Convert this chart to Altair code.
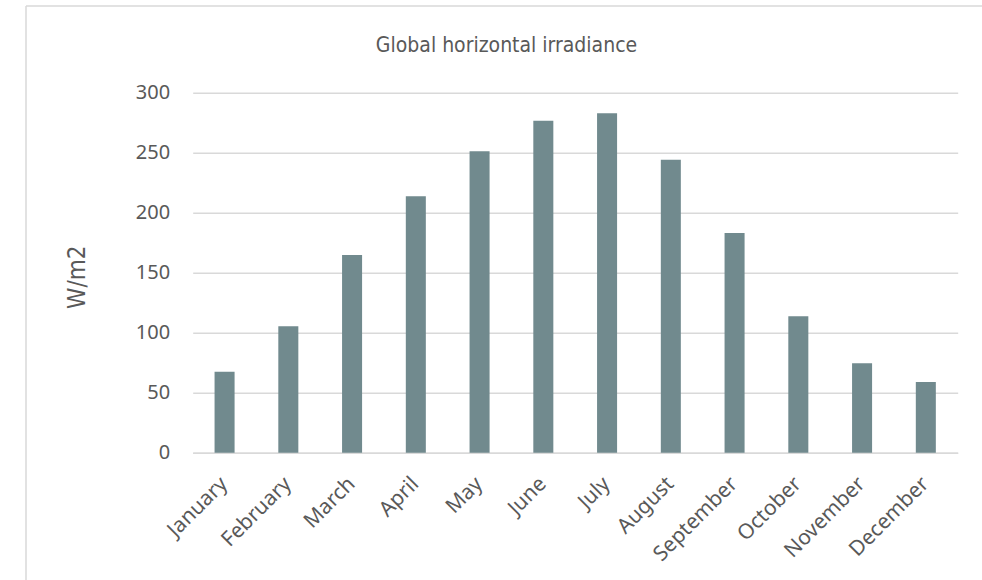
import altair as alt
import pandas as pd

months = ["January", "February", "March", "April", "May", "June",
          "July", "August", "September", "October", "November", "December"]
irradiance = [67.5, 105.3, 164.8, 213.7, 251.2, 276.7,
              282.8, 244.2, 183.1, 113.7, 74.5, 58.9]
y_ticks = [0, 50, 100, 150, 200, 250, 300]
chart_title = "Global horizontal irradiance"

df = pd.DataFrame({"month": months, "value": irradiance})
one = pd.DataFrame({"label": [chart_title]})

GRID = "#d9d9d9"
TEXT = "#595959"
NARROW = "Liberation Sans Narrow, DejaVu Sans Condensed, Roboto Condensed, sans-serif"

bars = alt.Chart(df).mark_bar(color="#718A8E").encode(
    x=alt.X("month:N", sort=months,
            scale=alt.Scale(paddingInner=0.686, paddingOuter=0.343),
            axis=alt.Axis(title=None, labelAngle=-45, labelFont="Noto Sans",
                          labelFontSize=21, labelColor=TEXT, ticks=False,
                          domainColor=GRID, domainWidth=1.5, labelPadding=20,
                          labelOffset=-8)),
    y=alt.Y("value:Q", scale=alt.Scale(domain=[0, 300], nice=False),
            axis=alt.Axis(values=y_ticks, title="W/m2", grid=True,
                          gridColor=GRID, gridWidth=1.5, domain=False,
                          ticks=False, labelPadding=23, labelFont="Noto Sans",
                          labelFontSize=20, labelColor=TEXT,
                          titleFont=NARROW, titleFontSize=24,
                          titleFontWeight="normal", titleColor=TEXT,
                          titleAngle=270, titleBaseline="alphabetic",
                          titleAlign="center", titleX=-108, titleY=184)),
)

top_border = alt.Chart(one).mark_rule(color=GRID, strokeWidth=1.5).encode(
    x=alt.value(-166.7), x2=alt.value(900), y=alt.value(-86.7))
left_border = alt.Chart(one).mark_rule(color=GRID, strokeWidth=1.5).encode(
    x=alt.value(-166.7), y=alt.value(-86.7), y2=alt.value(600))

title_text = alt.Chart(one).mark_text(
    font=NARROW, fontSize=21, color=TEXT, align="center",
    baseline="alphabetic").encode(
    text="label:N", x=alt.value(313.8), y=alt.value(-40.7))

chart = alt.layer(bars, top_border, left_border, title_text).properties(
    width=765, height=360,
    autosize=alt.AutoSizeParams(type="none"),
    padding={"left": 192.7, "top": 92.7, "right": 24.3, "bottom": 127.3},
    background="white",
).configure_view(stroke=None)

chart.save("out.html", embed_options={"renderer": "svg", "actions": False})
